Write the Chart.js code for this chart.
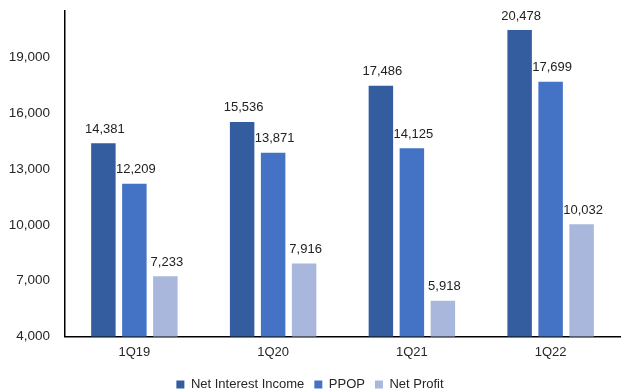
<!DOCTYPE html>
<html><head><meta charset="utf-8">
<script src="https://cdn.jsdelivr.net/npm/chart.js@4/dist/chart.umd.min.js"></script>
<style>html,body{margin:0;padding:0;background:#fff}#wrap{width:622px;height:389px}</style>
</head><body><div id="wrap"><canvas id="c" width="622" height="389"></canvas></div>
<script>
const categories = ['1Q19','1Q20','1Q21','1Q22'];
const netInterestIncome = [14381, 15536, 17486, 20478];
const ppop = [12209, 13871, 14125, 17699];
const netProfit = [7233, 7916, 5918, 10032];
const yTicks = [4000, 7000, 10000, 13000, 16000, 19000];
const seriesNames = ['Net Interest Income','PPOP','Net Profit'];
const colors = ['#345D9F','#4472C4','#A8B7DB'];
const fmt = v => v.toLocaleString('en-US');
const FONT = '"Liberation Sans", Arial, sans-serif';

const labelPlugin = {
  id: 'valueLabels',
  afterDatasetsDraw(chart) {
    const ctx = chart.ctx;
    ctx.save();
    ctx.font = '13px ' + FONT;
    ctx.fillStyle = '#222';
    ctx.textAlign = 'center';
    ctx.textBaseline = 'alphabetic';
    chart.data.datasets.forEach((ds, i) => {
      chart.getDatasetMeta(i).data.forEach((bar, j) => {
        ctx.fillText(fmt(ds.data[j]), bar.x + 1.5, bar.y - 10.5);
      });
    });
    ctx.restore();
  }
};

new Chart(document.getElementById('c'), {
  type: 'bar',
  data: {
    labels: categories,
    datasets: [
      { label: seriesNames[0], data: netInterestIncome, backgroundColor: colors[0] },
      { label: seriesNames[1], data: ppop, backgroundColor: colors[1] },
      { label: seriesNames[2], data: netProfit, backgroundColor: colors[2] }
    ]
  },
  options: {
    responsive: false,
    animation: false,
    devicePixelRatio: 1,
    layout: { padding: { top: 11, right: 2, left: 0, bottom: -12 } },
    datasets: { bar: { categoryPercentage: 0.67, barPercentage: 0.79 } },
    scales: {
      x: {
        grid: { display: false, drawTicks: false },
        border: { display: true, color: '#000', width: 1.5 },
        ticks: { color: '#262626', font: { size: 13, family: FONT }, padding: 8 }
      },
      y: {
        min: 4000, max: 21500,
        afterBuildTicks: s => { s.ticks = yTicks.map(v => ({ value: v })); },
        afterFit: s => { s.paddingTop = 0; s.width = 65; },
        grid: { display: false, drawTicks: false },
        border: { display: true, color: '#000', width: 1.5 },
        ticks: { color: '#262626', font: { size: 13.5, family: FONT }, padding: 15, callback: v => fmt(v) }
      }
    },
    plugins: {
      legend: {
        position: 'bottom',
        labels: { boxWidth: 8, boxHeight: 8, color: '#262626', font: { size: 13, family: FONT }, padding: 10 }
      },
      tooltip: { enabled: false }
    }
  },
  plugins: [labelPlugin]
});
</script></body></html>
